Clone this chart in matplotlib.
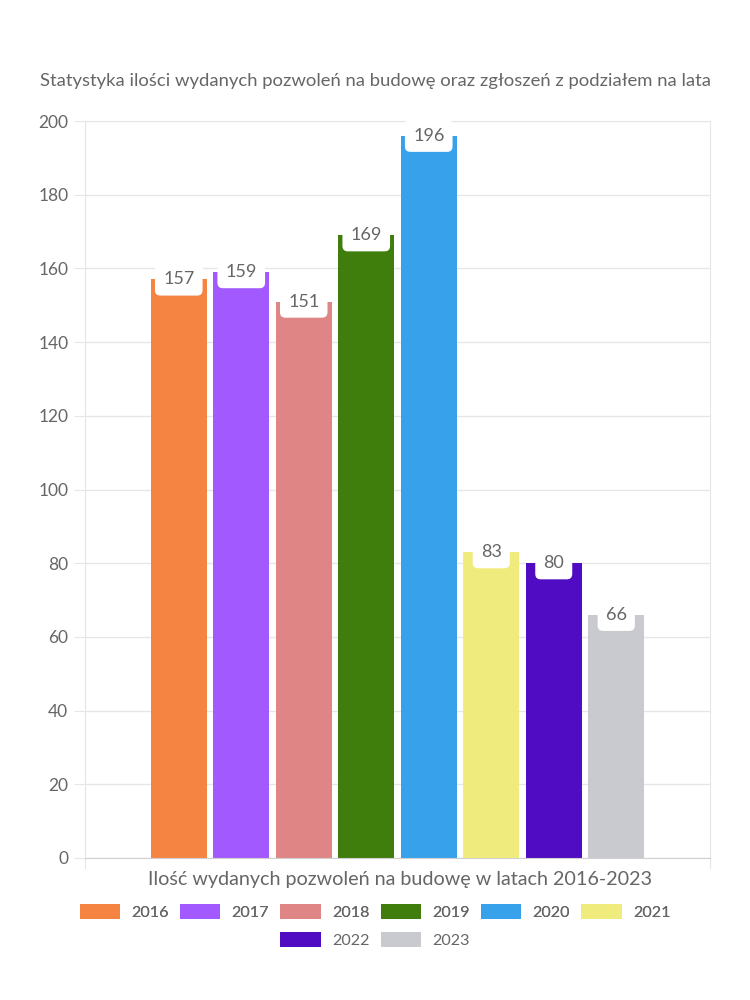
import matplotlib
matplotlib.use("Agg")
import matplotlib.pyplot as plt
from matplotlib.patches import Patch

years = ["2016", "2017", "2018", "2019", "2020", "2021", "2022", "2023"]
values = [157, 159, 151, 169, 196, 83, 80, 66]
colors = ["#F58442", "#A259FF", "#E08585", "#3F7D0C", "#37A2EB", "#F0EB7D", "#500CC2", "#C9CACF"]
yticks = [0, 20, 40, 60, 80, 100, 120, 140, 160, 180, 200]
title = "Statystyka ilości wydanych pozwoleń na budowę oraz zgłoszeń z podziałem na lata"
xlabel = "Ilość wydanych pozwoleń na budowę w latach 2016-2023"

plt.rcParams['font.family'] = ['Lato', 'DejaVu Sans']
txt = "#666666"
grid = "#e6e6e6"

fig = plt.figure(figsize=(7.5, 10), dpi=100)
ax = fig.add_axes([85/750, 1-858/1000, 625/750, 737/1000])

n = len(values)
step = 0.8 / n
for i, (y, v, c) in enumerate(zip(years, values, colors)):
    x = -0.4 + step * (i + 0.5)
    ax.bar(x, v, width=step * 0.9, color=c, zorder=2)
    ax.text(x, v, str(v), ha="center", va="center", fontsize=13, color=txt, zorder=4,
            bbox=dict(boxstyle="round,pad=0.45,rounding_size=0.3", fc="white", ec="none"))

ax.set_xlim(-0.5, 0.5)
ax.set_ylim(0, 200)
ax.set_yticks(yticks)
ax.set_yticklabels([str(t) for t in yticks], fontsize=12.5, color=txt)
ax.yaxis.grid(True, color=grid, linewidth=1, zorder=0)
ax.set_axisbelow(True)
ax.tick_params(axis="y", length=8, color=grid, pad=4)
ax.set_xticks([-0.5, 0.5])
ax.set_xticklabels(["", ""])
ax.tick_params(axis="x", length=8, color=grid)
for s in ax.spines.values():
    s.set_color(grid)
ax.spines["bottom"].set_color("#d0d0d0")

fig.text(375/750, 1-81/1000, title, ha="center", va="center", fontsize=13.3, color=txt)
fig.text(400/750, 1-880/1000, xlabel, ha="center", va="center", fontsize=14.2, color=txt)

handles = [Patch(facecolor=c, edgecolor="none") for c in colors]
legkw = dict(frameon=False, fontsize=11.6, handlelength=2.5, handleheight=1.05,
             columnspacing=0.7, handletextpad=0.7, labelcolor=txt, borderpad=0, borderaxespad=0)
leg1 = fig.legend(handles[:6], years[:6], loc="center", bbox_to_anchor=(375/750, 1-912/1000), ncol=6, **legkw)
fig.add_artist(leg1)
leg2 = fig.legend(handles[6:], years[6:], loc="center", bbox_to_anchor=(375/750, 1-940/1000), ncol=2, **legkw)

fig.savefig("out.png", dpi=100)
